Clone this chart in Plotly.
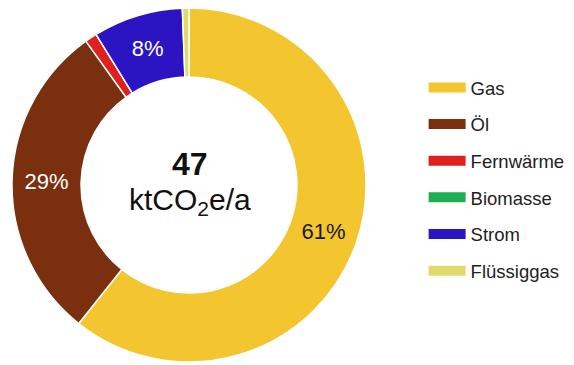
import plotly.graph_objects as go

# Emission shares by energy source (percent of total)
categories = ["Gas", "Öl", "Fernwärme", "Biomasse", "Strom", "Flüssiggas"]
shares = [60.7, 29.4, 1.1, 0.0, 8.2, 0.6]
colors = ["#F3C52F", "#7A2F0E", "#E0201F", "#1EAF55", "#2B14C2", "#DEDB6A"]
label_colors = ["#1a1a1a", "#ffffff", "#ffffff", "#ffffff", "#ffffff", "#ffffff"]
show_label = [True, True, False, False, True, False]

total_value = "47"
total_unit = "ktCO<sub>2</sub>e/a"

FONT = "Liberation Sans, Arial, sans-serif"

fig = go.Figure()

fig.add_trace(go.Pie(
    labels=categories,
    values=shares,
    sort=False,
    direction="clockwise",
    rotation=0,
    hole=0.61,
    marker=dict(colors=colors, line=dict(color="#ffffff", width=1.5)),
    texttemplate=["%{percent:.0%}" if s else "" for s in show_label],
    textposition="inside",
    insidetextorientation="horizontal",
    textfont=dict(family=FONT, size=22, color=label_colors),
    showlegend=False,
    hoverinfo="label+percent",
    domain=dict(x=[12 / 574, 366 / 574], y=[0, 1]),
))

# Legend entries drawn as wide colour bars, one group per source
for name, col in zip(categories, colors):
    fig.add_trace(go.Scatter(
        x=[None], y=[None],
        mode="lines",
        name=name,
        legendgroup=name,
        line=dict(color=col, width=11),
        hoverinfo="skip",
    ))

fig.update_layout(
    width=574,
    height=365,
    margin=dict(l=0, r=0, t=8, b=3),
    paper_bgcolor="#ffffff",
    plot_bgcolor="#ffffff",
    font=dict(family=FONT, color="#222222"),
    uniformtext=dict(mode="show", minsize=21),
    xaxis=dict(visible=False),
    yaxis=dict(visible=False),
    legend=dict(
        x=0.738, y=0.828,
        xanchor="left", yanchor="top",
        font=dict(family=FONT, size=18.5, color="#222222"),
        itemwidth=37,
        tracegroupgap=9.6,
        bgcolor="rgba(0,0,0,0)",
    ),
    annotations=[
        dict(text="<b>" + total_value + "</b>", x=0.331, y=0.559,
             xref="paper", yref="paper", xanchor="center", yanchor="middle",
             showarrow=False,
             font=dict(family=FONT, size=32, color="#111111")),
        dict(text=total_unit, x=0.331, y=0.452,
             xref="paper", yref="paper", xanchor="center", yanchor="middle",
             showarrow=False,
             font=dict(family=FONT, size=30, color="#111111")),
    ],
)

fig.write_html("out.html")
